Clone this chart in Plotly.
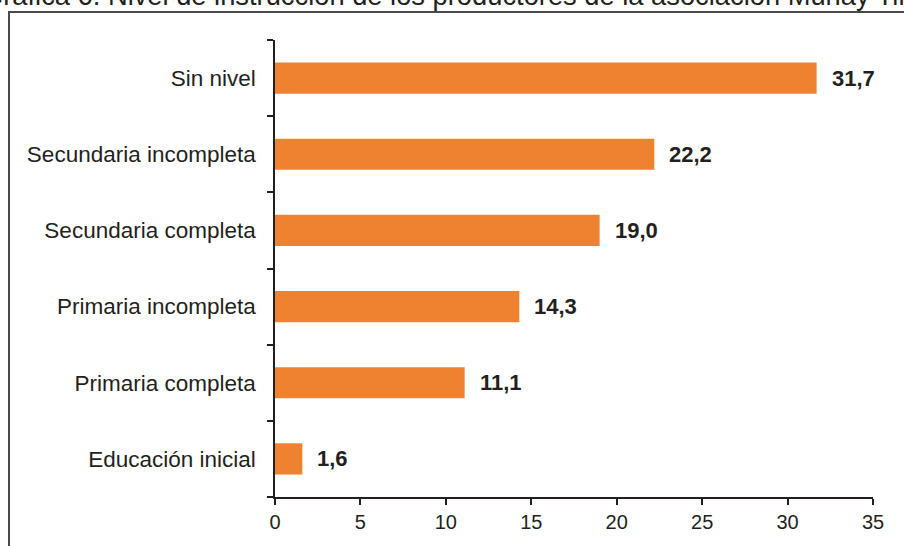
import plotly.graph_objects as go

categories = ["Sin nivel", "Secundaria incompleta", "Secundaria completa",
              "Primaria incompleta", "Primaria completa", "Educación inicial"]
values = [31.7, 22.2, 19.0, 14.3, 11.1, 1.6]
value_labels = ["31,7", "22,2", "19,0", "14,3", "11,1", "1,6"]
x_ticks = [0, 5, 10, 15, 20, 25, 30, 35]
title_text = "Gráfica 6. Nivel de instrucción de los productores de la asociación Munay Tika"

W, H = 904, 546
L, R, T, B = 275, 31, 40, 49
pw, ph = W - L - R, H - T - B

def px_x(px):
    return (px - L) / pw

def px_y(py):
    return (H - B - py) / ph

FONT = "Liberation Sans, Arial, sans-serif"
TXT = "#231f20"

fig = go.Figure(go.Bar(
    x=values, y=categories, orientation="h",
    marker=dict(color="#ef8230", line=dict(width=0)),
    hoverinfo="skip",
))

for v, lab, c in zip(values, value_labels, categories):
    fig.add_annotation(x=v, y=c, xref="x", yref="y", text="<b>" + lab + "</b>",
                       showarrow=False, xanchor="left", xshift=13,
                       font=dict(family=FONT, size=22, color=TXT))

fig.add_annotation(x=px_x(-20), y=px_y(-4), xref="paper", yref="paper",
                   text=title_text, showarrow=False, xanchor="left", yanchor="middle",
                   font=dict(family=FONT, size=27.3, color=TXT))

fig.add_shape(type="rect", xref="paper", yref="paper",
              x0=px_x(9), x1=px_x(915), y0=px_y(12), y1=px_y(570),
              line=dict(color="#4a4a4a", width=2), fillcolor="rgba(0,0,0,0)", layer="below")

fig.update_layout(
    width=W, height=H,
    margin=dict(l=L, r=R, t=T, b=B, pad=0),
    paper_bgcolor="white", plot_bgcolor="white",
    showlegend=False, bargap=0.59,
    font=dict(family=FONT, color=TXT),
)
fig.update_xaxes(range=[0, 35], tickvals=x_ticks, ticktext=[str(t) for t in x_ticks],
                 showgrid=False, zeroline=False, showline=True, linecolor=TXT, linewidth=1.5,
                 ticks="outside", ticklen=6, tickwidth=1.5, tickcolor=TXT,
                 tickfont=dict(family=FONT, size=20, color=TXT), fixedrange=True)
fig.update_yaxes(type="category", categoryorder="array", categoryarray=categories[::-1],
                 autorange=True, showgrid=False, zeroline=False, showline=True,
                 linecolor=TXT, linewidth=1.5, ticks="outside", ticklen=6, tickwidth=1.5,
                 tickcolor=TXT, tickson="boundaries", ticklabelstandoff=13,
                 tickfont=dict(family=FONT, size=22.5, color=TXT), fixedrange=True)

fig.write_html("out.html", config={"displayModeBar": False})
